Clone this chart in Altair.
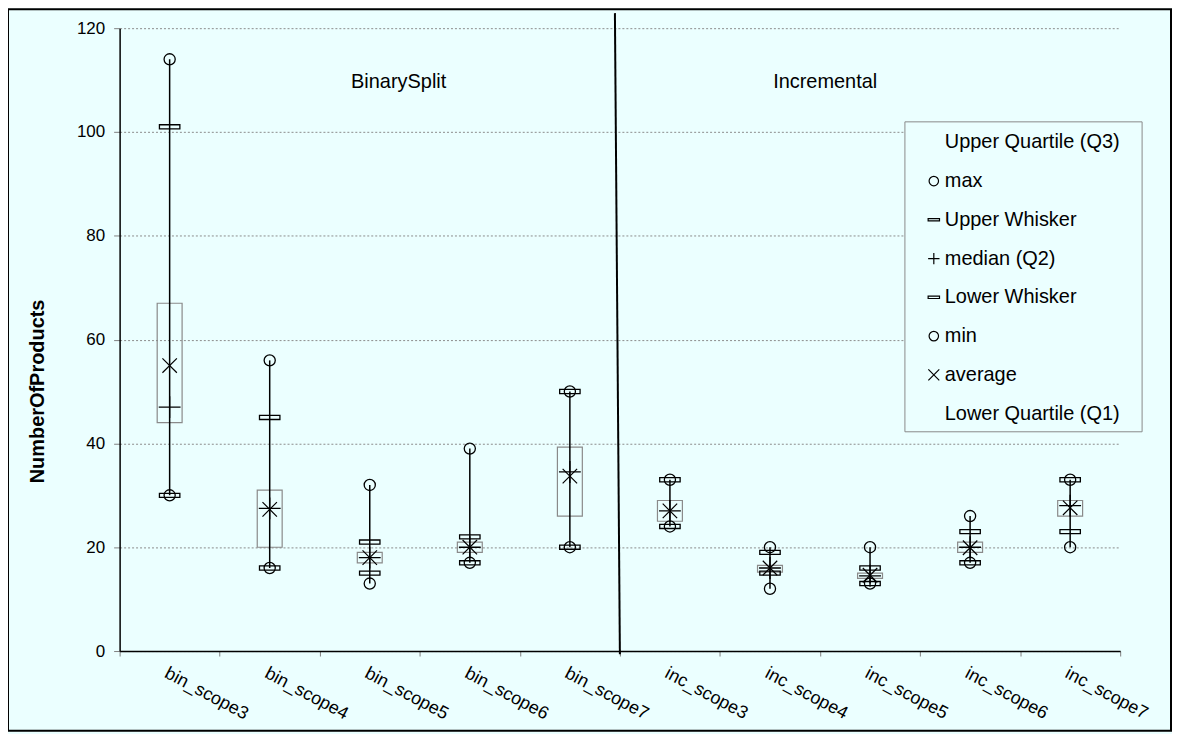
import altair as alt
import pandas as pd

# ---------------- data ----------------
categories = ["bin_scope3", "bin_scope4", "bin_scope5", "bin_scope6", "bin_scope7",
              "inc_scope3", "inc_scope4", "inc_scope5", "inc_scope6", "inc_scope7"]
max_v    = [114, 56, 32, 39, 50, 33, 20, 20, 26, 33]
upper_w  = [101, 45, 21, 22, 50, 33, 19, 16, 23, 33]
q3       = [67, 31, 19, 21, 39.3, 29, 16.5, 15, 21, 29]
median_v = [47, 27.5, 18, 20, 34.5, 27, 16, 14.5, 20, 28]
avg_v    = [55, 27.3, 18, 20, 33.7, 27, 16, 14.6, 19.9, 27.6]
q1       = [44, 20, 17, 19, 26, 25, 15.2, 14, 19, 26]
lower_w  = [30, 16, 15, 17, 20, 24, 15, 13, 17, 23]
min_v    = [30, 16, 13, 17, 20, 24, 12, 13, 17, 20]

group_labels = ["BinarySplit", "Incremental"]
legend_labels = ["Upper Quartile (Q3)", "max", "Upper Whisker", "median (Q2)",
                 "Lower Whisker", "min", "average", "Lower Quartile (Q1)"]
legend_symbols = ["none", "circle", "whisker", "plus", "whisker", "circle", "cross", "none"]

BG = "#EBFFFF"
FONT = "Liberation Sans"
W, H = 1004, 625

df = pd.DataFrame({
    "cat": categories, "max": max_v, "uw": upper_w, "q3": q3, "med": median_v,
    "avg": avg_v, "q1": q1, "lw": lower_w, "min": min_v,
})

x_enc = alt.X("cat:N", sort=categories, title=None,
              scale=alt.Scale(paddingInner=0, paddingOuter=0),
              axis=alt.Axis(tickBand="extent", labelAngle=28, labelAlign="left",
                            labelBaseline="top", labelFontSize=18, labelPadding=8,
                            labelColor="black", tickColor="#808080", tickSize=5,
                            domainColor="black", domainWidth=1.5, grid=False,
                            labelFont=FONT))
y_scale = alt.Scale(domain=[0, 120], nice=False)
y_axis = alt.Axis(values=[0, 20, 40, 60, 80, 100, 120], title="NumberOfProducts",
                  titleFontSize=20, titleFontWeight="bold", titleFont=FONT,
                  titleColor="black", titleAngle=-90, titleX=-82, titleY=364,
                  titleAlign="center", titleBaseline="middle",
                  labelFontSize=17, labelFont=FONT, labelColor="black", labelPadding=9,
                  tickColor="#808080", tickSize=6, domainColor="black", domainWidth=1.5,
                  grid=True, gridColor="#8C8C8C", gridDash=[2, 2], gridWidth=1)

base = alt.Chart(df).encode(x=x_enc)

box = base.mark_bar(size=25, fillOpacity=0, stroke="#8A8A8A", strokeWidth=1.2).encode(
    y=alt.Y("q1:Q", scale=y_scale, axis=y_axis), y2="q3:Q")
stem = base.mark_rule(color="black", strokeWidth=1.5).encode(
    y=alt.Y("min:Q", scale=y_scale), y2="max:Q")

whisk_shape = "M-1,-0.2H1V0.2H-1Z"
plus_shape = "M-1,0H1M0,-1V1"
cross_shape = "M-1,-1L1,1M-1,1L1,-1"

def pt(field, shape, size, sw=1.3):
    return base.mark_point(shape=shape, size=size, filled=False, stroke="black",
                           strokeWidth=sw, opacity=1).encode(
        y=alt.Y(f"{field}:Q", scale=y_scale))

uw_mark = pt("uw", whisk_shape, 420)
lw_mark = pt("lw", whisk_shape, 420)
max_mark = pt("max", "circle", 125)
min_mark = pt("min", "circle", 125)
med_mark = pt("med", plus_shape, 480)
avg_mark = pt("avg", cross_shape, 210, 1.2)

# divider between the two groups (boundary of the inc_scope3 band)
div_df = pd.DataFrame({"cat": ["inc_scope3"], "y0": [-0.6], "y1": [122.9]})
divider = alt.Chart(div_df).mark_rule(color="black", strokeWidth=2, x2Offset=-5).encode(
    x=alt.X("cat:N", sort=categories, bandPosition=0),
    x2=alt.X2("cat:N", bandPosition=0),
    y=alt.Y("y0:Q", scale=y_scale), y2="y1:Q")

# group titles
grp_df = pd.DataFrame({"label": group_labels, "px": [280, 708], "py": [60, 60]})
grp_text = alt.Chart(grp_df).mark_text(fontSize=20, font=FONT, color="black",
                                       baseline="alphabetic").encode(
    x=alt.X("px:Q", scale=None), y=alt.Y("py:Q", scale=None), text="label:N")

# legend (drawn as marks)
LX0, LX1, LY0, LY1 = 788, 1026, 94, 405
leg_box = alt.Chart(pd.DataFrame({"a": [0]})).mark_rect(
    fill=BG, stroke="#8A8A8A", strokeWidth=1).encode(
    x=alt.value(LX0), x2=alt.value(LX1), y=alt.value(LY0), y2=alt.value(LY1))
row_y = [114.5 + 38.9 * i for i in range(len(legend_labels))]
leg_df = pd.DataFrame({"label": legend_labels, "sym": legend_symbols, "py": row_y,
                       "tx": [828] * len(legend_labels), "sx": [817] * len(legend_labels)})
leg_text = alt.Chart(leg_df).mark_text(align="left", baseline="middle", fontSize=20,
                                       font=FONT, color="black").encode(
    x=alt.X("tx:Q", scale=None), y=alt.Y("py:Q", scale=None), text="label:N")

def leg_sym(kind, shape, size, sw=1.2):
    return alt.Chart(leg_df).transform_filter(alt.datum.sym == kind).mark_point(
        shape=shape, size=size, filled=False, stroke="black", strokeWidth=sw,
        opacity=1).encode(x=alt.X("sx:Q", scale=None), y=alt.Y("py:Q", scale=None))

leg_c = leg_sym("circle", "circle", 90)
leg_w = leg_sym("whisker", whisk_shape, 130, 1.2)
leg_p = leg_sym("plus", plus_shape, 130)
leg_x = leg_sym("cross", cross_shape, 120)

# outer frame
frame = alt.Chart(pd.DataFrame({"a": [0]})).mark_rect(
    fill=None, stroke="black", strokeWidth=2).encode(
    x=alt.value(-112), x2=alt.value(1055), y=alt.value(-19), y2=alt.value(705))

chart = alt.layer(
    box, stem, uw_mark, lw_mark, max_mark, min_mark, med_mark, avg_mark,
    divider, grp_text, leg_box, leg_text, leg_c, leg_w, leg_p, leg_x, frame
).properties(
    width=W, height=H, autosize="none",
    padding={"left": 112, "top": 19, "right": 52, "bottom": 82},
).configure(background=BG, font=FONT).configure_view(stroke=None)

chart.save("out.html", embed_options={"renderer": "svg", "actions": False})
